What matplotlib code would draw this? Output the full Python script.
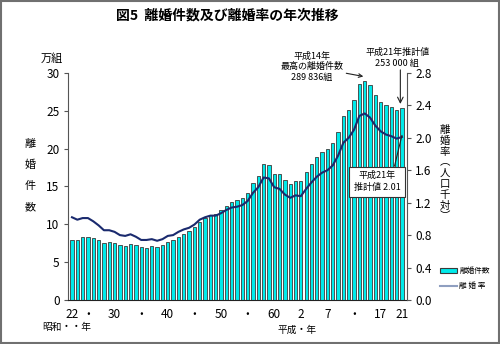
import matplotlib
matplotlib.use("Agg")
import matplotlib.pyplot as plt
from matplotlib.patches import Rectangle, Patch
from matplotlib.lines import Line2D

plt.rcParams['font.family'] = ['Noto Sans CJK JP', 'DejaVu Sans']

years = list(range(1947, 2010))
# divorces (万組)
divorces = [7.96, 7.90, 8.26, 8.37, 8.23, 7.90, 7.53, 7.68, 7.53, 7.20,
            7.17, 7.40, 7.25, 6.94, 6.93, 7.14, 7.00, 7.23, 7.72, 7.94,
            8.35, 8.73, 9.13, 9.59, 10.36, 10.84, 11.19, 11.36, 11.91, 12.45,
            12.95, 13.21, 13.53, 14.17, 15.42, 16.40, 17.92, 17.87, 16.66, 16.61,
            15.82, 15.36, 15.78, 15.76, 16.90, 17.92, 18.83, 19.51, 19.90, 20.70,
            22.26, 24.32, 25.05, 26.42, 28.59, 28.98, 28.39, 27.08, 26.19, 25.75,
            25.48, 25.11, 25.30]
# divorce rate (per 1000 population)
rates = [1.02, 0.99, 1.01, 1.01, 0.97, 0.92, 0.86, 0.86, 0.84, 0.80,
         0.79, 0.81, 0.78, 0.74, 0.74, 0.75, 0.73, 0.75, 0.79, 0.80,
         0.84, 0.87, 0.89, 0.93, 0.99, 1.02, 1.04, 1.04, 1.07, 1.11,
         1.14, 1.15, 1.17, 1.22, 1.32, 1.39, 1.51, 1.50, 1.39, 1.37,
         1.30, 1.26, 1.29, 1.28, 1.37, 1.45, 1.52, 1.57, 1.60, 1.66,
         1.78, 1.94, 2.00, 2.10, 2.27, 2.30, 2.25, 2.15, 2.08, 2.04,
         2.02, 1.99, 2.01]

tick_years = [1947, 1950, 1955, 1960, 1965, 1970, 1975, 1980, 1985, 1990, 1995, 2000, 2005, 2009]
tick_labels = ['22', '・', '30', '・', '40', '・', '50', '・', '60', '2', '7', '・', '17', '21']
left_ticks = [0, 5, 10, 15, 20, 25, 30]
right_ticks = [0.0, 0.4, 0.8, 1.2, 1.6, 2.0, 2.4, 2.8]

fig = plt.figure(figsize=(5.0, 3.44), dpi=100)
fig.patches.append(Rectangle((0.002, 0.003), 0.996, 0.994, transform=fig.transFigure,
                             fill=False, edgecolor='#707070', linewidth=1.5))

ax = fig.add_axes([0.136, 0.128, 0.678, 0.660])
ax2 = ax.twinx()

ax.bar(years, divorces, width=0.62, color='#00EAEA', edgecolor='#3a3a3a', linewidth=0.6, zorder=2)
ax.set_ylim(0, 30)
ax.set_xlim(1946.25, 2009.95)
ax.set_yticks(left_ticks)
ax.set_yticklabels([str(t) for t in left_ticks], fontsize=8.5)
ax.set_xticks(tick_years)
ax.set_xticklabels(tick_labels, fontsize=8.5)
ax.tick_params(axis='x', length=0, pad=6)
ax.tick_params(axis='y', direction='out', length=3, width=0.8, color='#555555', pad=3)
for s in ['top', 'right']:
    ax.spines[s].set_visible(False)
ax.spines['left'].set_color('#555555')
ax.spines['bottom'].set_color('#222222')

ax2.plot(years, rates, color='#1a2a6e', linewidth=1.5, zorder=3)
ax2.set_ylim(0, 2.8)
ax2.set_yticks(right_ticks)
ax2.set_yticklabels([f'{t:.1f}' for t in right_ticks], fontsize=8.5)
ax2.tick_params(axis='y', direction='out', length=3, width=0.8, color='#555555', pad=3)
for s in ['top', 'left', 'bottom']:
    ax2.spines[s].set_visible(False)
ax2.spines['right'].set_color('#555555')

# title
fig.text(0.455, 0.955, '図5  離婚件数及び離婚率の年次推移', ha='center', va='center',
         fontsize=10, fontweight='bold')
# axis labels
fig.text(0.104, 0.83, '万組', ha='center', va='center', fontsize=8)
fig.text(0.06, 0.49, '離\n\n婚\n\n件\n\n数', ha='center', va='center', fontsize=8, linespacing=1.05)
right_label = '離婚率︵人口千対︶'
for i, ch in enumerate(right_label):
    ypx = 130 + i * 10.8
    fig.text(0.89, 1 - ypx / 344, ch, ha='center', va='center', fontsize=7.5)
fig.text(0.085, 0.05, '昭和・・年', ha='left', va='center', fontsize=7)
fig.text(0.595, 0.04, '平成・年', ha='center', va='center', fontsize=7)

# annotations
ax.annotate('平成14年\n最高の離婚件数\n289 836組', xy=(2002, 29.5), xytext=(1992.1, 30.8),
            ha='center', va='center', fontsize=6.5, linespacing=1.25, annotation_clip=False,
            arrowprops=dict(arrowstyle='->', color='#222222', lw=0.8, shrinkA=24, shrinkB=1))
ax.text(2008.1, 32.0, '平成21年推計値\n253 000 組', ha='center', va='center',
        fontsize=6.5, linespacing=1.25, clip_on=False)
ax.annotate('', xy=(2008.7, 25.9), xytext=(2008.7, 30.4), annotation_clip=False,
            arrowprops=dict(arrowstyle='->', color='#222222', lw=0.8, shrinkA=0, shrinkB=0))
ax2.annotate('平成21年\n推計値 2.01', xy=(2009, 2.03), xytext=(2004.3, 1.46),
             ha='center', va='center', fontsize=6.5, linespacing=1.4,
             bbox=dict(boxstyle='square,pad=0.5', fc='white', ec='#333333', lw=0.8),
             arrowprops=dict(arrowstyle='-', color='#222222', lw=0.8, shrinkA=0, shrinkB=0,
                             relpos=(0.85, 1.0)))

# legend
handles = [Patch(facecolor='#00EAEA', edgecolor='#3a3a3a', linewidth=0.8),
           Line2D([], [], color='#8f9fc0', linewidth=1.5)]
fig.legend(handles, ['離婚件数', '離 婚 率'], loc='center', bbox_to_anchor=(0.93, 0.19),
           fontsize=5.5, frameon=False, handlelength=2.2, handleheight=0.5,
           labelspacing=0.9, handletextpad=0.3)

fig.savefig('out.png', dpi=100)
